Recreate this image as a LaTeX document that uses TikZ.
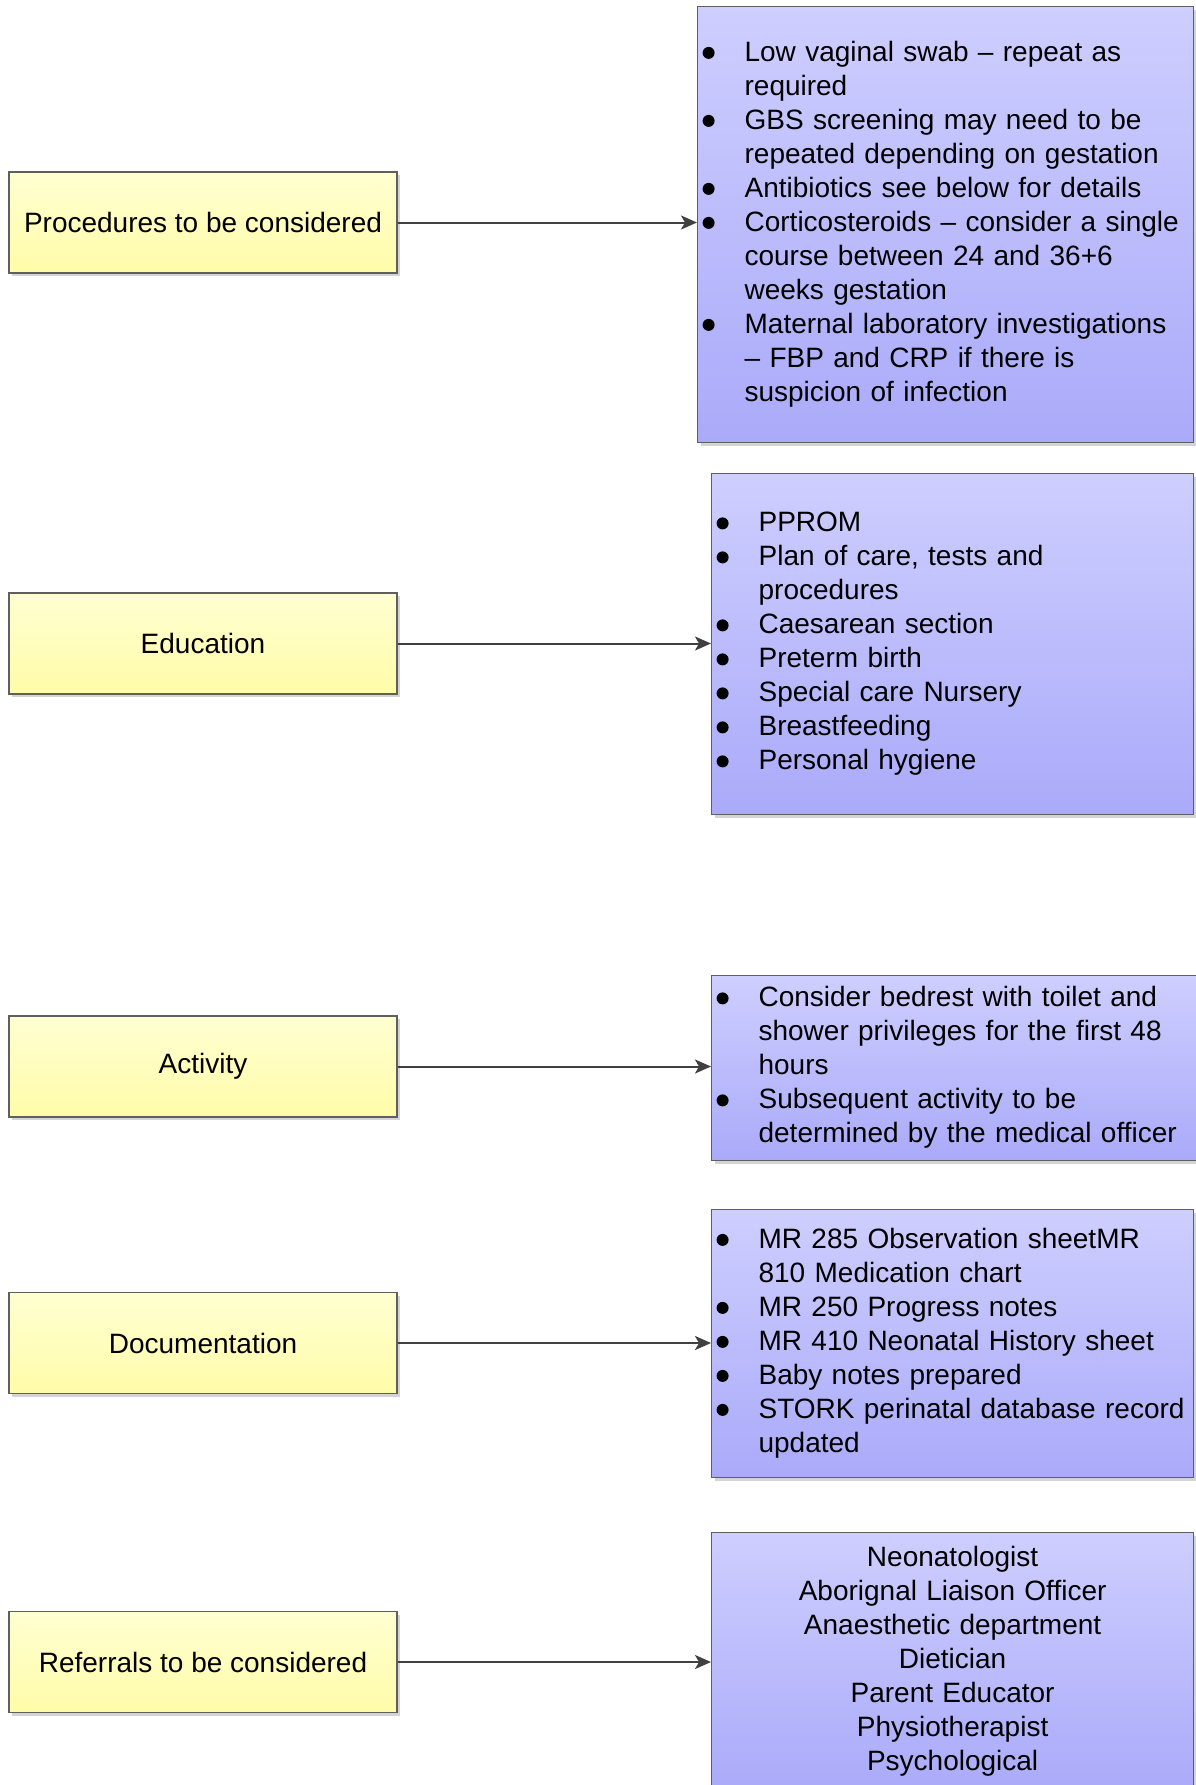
\documentclass[tikz,border=0pt]{standalone}
\usepackage{fontspec}
\setmainfont{Liberation Sans}
\usetikzlibrary{shadows,arrows.meta}
\definecolor{yTop}{RGB}{255,255,210}
\definecolor{yBot}{RGB}{255,252,168}
\definecolor{bTop}{RGB}{206,206,255}
\definecolor{bBot}{RGB}{170,170,250}
\definecolor{edgecol}{RGB}{95,95,95}
\definecolor{arrcol}{RGB}{64,64,64}
\definecolor{shdcol}{RGB}{212,212,212}
\tikzset{
  basebox/.style={draw=edgecol, line width=1.2pt, rectangle, inner sep=0pt,
    drop shadow={shadow xshift=3pt, shadow yshift=-3pt, fill=shdcol, opacity=1}},
  topic/.style={basebox, top color=yTop, bottom color=yBot,
    minimum width=388pt, minimum height=101pt, font=\fontsize{28}{34}\selectfont},
  info/.style={basebox, top color=bTop, bottom color=bBot, anchor=north west,
    align=left, font=\fontsize{28}{34}\selectfont},
  link/.style={draw=arrcol, line width=2pt, -{Stealth[length=16pt,width=14pt,inset=4pt]}},
}
\newcommand{\bul}{\tikz[baseline=-8.5pt]\fill[black] (0pt,0pt) circle[radius=6pt];}
\newcommand{\blist}[1]{\begin{tabular}{@{\hspace{5pt}}p{42pt}@{}l@{}}#1\end{tabular}}
\begin{document}
\begin{tikzpicture}[x=1pt,y=-1pt]
\fill[white] (0,0) rectangle (1195,1785);
\useasboundingbox (0,0) rectangle (1195,1785);

% left topic boxes
\node[topic] (p1) at (203,222.5) {Procedures to be considered};
\node[topic] (p2) at (203,643.5) {Education};
\node[topic] (p3) at (203,1066.5) {Activity};
\node[topic] (p4) at (203,1343) {Documentation};
\node[topic] (p5) at (203,1662) {Referrals to be considered};

% right info boxes
\node[info, text width=496pt, minimum height=436pt] (b1) at (697,6) {\blist{%
\bul & Low vaginal swab – repeat as\\
  & required\\
\bul & GBS screening may need to be\\
  & repeated depending on gestation\\
\bul & Antibiotics see below for details\\
\bul & Corticosteroids – consider a single\\
  & course between 24 and 36+6\\
  & weeks gestation\\
\bul & Maternal laboratory investigations\\
  & – FBP and CRP if there is\\
  & suspicion of infection}};

\node[info, text width=482pt, minimum height=341pt] (b2) at (711,473) {\blist{%
\bul & PPROM\\
\bul & Plan of care, tests and\\
  & procedures\\
\bul & Caesarean section\\
\bul & Preterm birth\\
\bul & Special care Nursery\\
\bul & Breastfeeding\\
\bul & Personal hygiene}};

\node[info, text width=495pt, minimum height=185pt] (b3) at (711,975) {\blist{%
\bul & Consider bedrest with toilet and\\
  & shower privileges for the first 48\\
  & hours\\
\bul & Subsequent activity to be\\
  & determined by the medical officer}};

\node[info, text width=482pt, minimum height=268pt] (b4) at (711,1209) {\blist{%
\bul & MR 285 Observation sheetMR\\
  & 810 Medication chart\\
\bul & MR 250 Progress notes\\
\bul & MR 410 Neonatal History sheet\\
\bul & Baby notes prepared\\
\bul & STORK perinatal database record\\
  & updated}};

\node[info, text width=482pt, minimum height=258pt, align=center] (b5) at (711,1532) {%
Neonatologist\\
Aborignal Liaison Officer\\
Anaesthetic department\\
Dietician\\
Parent Educator\\
Physiotherapist\\
Psychological};

% connectors
\draw[link] (p1.east) -- (p1.east -| b1.west);
\draw[link] (p2.east) -- (p2.east -| b2.west);
\draw[link] (p3.east) -- (p3.east -| b3.west);
\draw[link] (p4.east) -- (p4.east -| b4.west);
\draw[link] (p5.east) -- (p5.east -| b5.west);
\end{tikzpicture}
\end{document}
